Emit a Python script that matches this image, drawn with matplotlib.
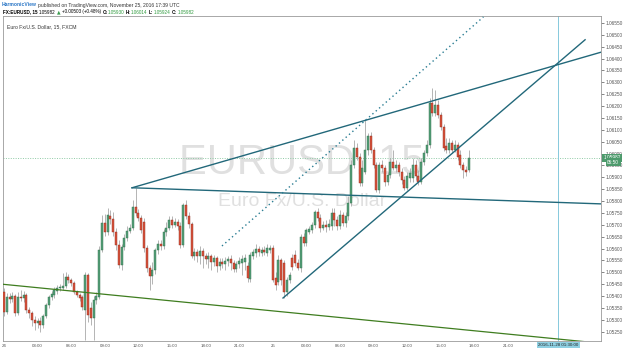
import numpy as np
import matplotlib
matplotlib.use("Agg")
import matplotlib.pyplot as plt

plt.rcParams['font.family'] = ['Liberation Sans', 'DejaVu Sans']

# EURUSD 15 min bars, 24 Nov 2016 00:00 UTC -> 25 Nov 17:30 UTC
opens = [1.05418, 1.05333, 1.05397, 1.05388, 1.05401, 1.05329, 1.05397, 1.05392, 1.05405, 1.05342,
         1.05329, 1.05300, 1.05287, 1.05296, 1.05279, 1.05317, 1.05363, 1.05397, 1.05405, 1.05422,
         1.05435, 1.05435, 1.05443, 1.05481, 1.05468, 1.05456, 1.05418, 1.05405, 1.05397, 1.05342,
         1.05489, 1.05350, 1.05308, 1.05384, 1.05397, 1.05595, 1.05708, 1.05670, 1.05738, 1.05725,
         1.05670, 1.05616, 1.05531, 1.05607, 1.05645, 1.05674, 1.05687, 1.05776, 1.05750, 1.05729,
         1.05712, 1.05603, 1.05519, 1.05485, 1.05510, 1.05595, 1.05620, 1.05611, 1.05670, 1.05687,
         1.05721, 1.05700, 1.05712, 1.05696, 1.05616, 1.05784, 1.05738, 1.05704, 1.05569, 1.05586,
         1.05569, 1.05590, 1.05569, 1.05557, 1.05569, 1.05544, 1.05561, 1.05527, 1.05544, 1.05536,
         1.05548, 1.05557, 1.05540, 1.05515, 1.05536, 1.05540, 1.05544, 1.05527, 1.05472, 1.05569,
         1.05582, 1.05599, 1.05582, 1.05595, 1.05582, 1.05595, 1.05603, 1.05477, 1.05460, 1.05552,
         1.05540, 1.05418, 1.05468, 1.05561, 1.05573, 1.05540, 1.05519, 1.05649, 1.05624, 1.05670,
         1.05679, 1.05700, 1.05754, 1.05729, 1.05687, 1.05700, 1.05691, 1.05696, 1.05750, 1.05721,
         1.05696, 1.05742, 1.05708, 1.05738, 1.05792, 1.05952, 1.06024, 1.05986, 1.05877, 1.05923,
         1.06016, 1.06074, 1.06016, 1.05952, 1.05847, 1.05952, 1.05940, 1.05881, 1.05910, 1.05965,
         1.05940, 1.05952, 1.05923, 1.05889, 1.05856, 1.05898, 1.05898, 1.05952, 1.05906, 1.05881,
         1.05965, 1.06003, 1.06037, 1.06213, 1.06171, 1.06205, 1.06163, 1.06112, 1.06032, 1.06016,
         1.06045, 1.06016, 1.06037, 1.05994, 1.05952, 1.05931, 1.05930]
highs = [1.05435, 1.05413, 1.05413, 1.05418, 1.05409, 1.05418, 1.05426, 1.05422, 1.05413, 1.05354,
         1.05338, 1.05317, 1.05308, 1.05312, 1.05325, 1.05371, 1.05405, 1.05422, 1.05439, 1.05447,
         1.05451, 1.05498, 1.05502, 1.05493, 1.05477, 1.05464, 1.05426, 1.05413, 1.05405, 1.05502,
         1.05498, 1.05376, 1.05401, 1.05418, 1.05611, 1.05742, 1.05746, 1.05771, 1.05763, 1.05754,
         1.05687, 1.05637, 1.05620, 1.05662, 1.05696, 1.05704, 1.05805, 1.05856, 1.05767, 1.05742,
         1.05729, 1.05616, 1.05531, 1.05544, 1.05603, 1.05637, 1.05637, 1.05683, 1.05712, 1.05738,
         1.05738, 1.05729, 1.05725, 1.05712, 1.05792, 1.05805, 1.05754, 1.05712, 1.05603, 1.05599,
         1.05611, 1.05603, 1.05582, 1.05586, 1.05578, 1.05573, 1.05569, 1.05561, 1.05561, 1.05565,
         1.05569, 1.05573, 1.05552, 1.05548, 1.05565, 1.05573, 1.05578, 1.05544, 1.05586, 1.05599,
         1.05620, 1.05611, 1.05607, 1.05611, 1.05620, 1.05616, 1.05616, 1.05502, 1.05573, 1.05561,
         1.05552, 1.05481, 1.05502, 1.05578, 1.05595, 1.05557, 1.05662, 1.05666, 1.05687, 1.05696,
         1.05712, 1.05763, 1.05771, 1.05746, 1.05717, 1.05721, 1.05725, 1.05771, 1.05771, 1.05738,
         1.05763, 1.05754, 1.05754, 1.05822, 1.05973, 1.06058, 1.06045, 1.06003, 1.05973, 1.06142,
         1.06087, 1.06091, 1.06028, 1.05965, 1.05965, 1.05973, 1.05952, 1.05923, 1.05982, 1.06016,
         1.05973, 1.05965, 1.05940, 1.05906, 1.05923, 1.05940, 1.05982, 1.05973, 1.05931, 1.05982,
         1.06016, 1.06058, 1.06234, 1.06276, 1.06268, 1.06226, 1.06176, 1.06125, 1.06066, 1.06066,
         1.06058, 1.06058, 1.06049, 1.06016, 1.05965, 1.05948, 1.06014]
lows = [1.05317, 1.05325, 1.05371, 1.05376, 1.05317, 1.05321, 1.05380, 1.05376, 1.05329, 1.05308,
        1.05275, 1.05258, 1.05266, 1.05249, 1.05266, 1.05308, 1.05350, 1.05384, 1.05392, 1.05409,
        1.05422, 1.05426, 1.05435, 1.05456, 1.05443, 1.05409, 1.05397, 1.05380, 1.05342, 1.05216,
        1.05291, 1.05279, 1.05216, 1.05367, 1.05388, 1.05586, 1.05653, 1.05658, 1.05704, 1.05653,
        1.05595, 1.05519, 1.05510, 1.05595, 1.05632, 1.05666, 1.05679, 1.05738, 1.05717, 1.05666,
        1.05586, 1.05502, 1.05426, 1.05451, 1.05493, 1.05578, 1.05595, 1.05599, 1.05653, 1.05679,
        1.05687, 1.05691, 1.05679, 1.05603, 1.05607, 1.05725, 1.05687, 1.05561, 1.05552, 1.05544,
        1.05536, 1.05519, 1.05536, 1.05519, 1.05510, 1.05527, 1.05502, 1.05510, 1.05519, 1.05510,
        1.05527, 1.05510, 1.05502, 1.05502, 1.05519, 1.05489, 1.05510, 1.05460, 1.05460, 1.05557,
        1.05565, 1.05569, 1.05569, 1.05573, 1.05569, 1.05582, 1.05460, 1.05426, 1.05447, 1.05447,
        1.05392, 1.05401, 1.05456, 1.05510, 1.05527, 1.05510, 1.05502, 1.05611, 1.05611, 1.05662,
        1.05666, 1.05687, 1.05717, 1.05670, 1.05679, 1.05670, 1.05679, 1.05679, 1.05696, 1.05679,
        1.05683, 1.05696, 1.05691, 1.05721, 1.05780, 1.05940, 1.05973, 1.05864, 1.05864, 1.05914,
        1.05994, 1.06003, 1.05940, 1.05839, 1.05835, 1.05923, 1.05864, 1.05868, 1.05898, 1.05931,
        1.05923, 1.05906, 1.05872, 1.05847, 1.05847, 1.05881, 1.05881, 1.05889, 1.05868, 1.05872,
        1.05952, 1.05990, 1.06024, 1.06159, 1.06159, 1.06150, 1.06100, 1.06011, 1.06003, 1.06003,
        1.06003, 1.06007, 1.05973, 1.05940, 1.05898, 1.05906, 1.05924]
closes = [1.05333, 1.05397, 1.05388, 1.05401, 1.05329, 1.05397, 1.05392, 1.05405, 1.05342, 1.05329,
          1.05300, 1.05287, 1.05296, 1.05279, 1.05317, 1.05363, 1.05397, 1.05409, 1.05426, 1.05435,
          1.05439, 1.05443, 1.05481, 1.05468, 1.05456, 1.05418, 1.05405, 1.05392, 1.05354, 1.05489,
          1.05321, 1.05308, 1.05384, 1.05401, 1.05595, 1.05708, 1.05670, 1.05742, 1.05725, 1.05670,
          1.05616, 1.05531, 1.05607, 1.05645, 1.05674, 1.05687, 1.05776, 1.05750, 1.05729, 1.05679,
          1.05603, 1.05519, 1.05485, 1.05510, 1.05595, 1.05620, 1.05611, 1.05670, 1.05687, 1.05721,
          1.05700, 1.05712, 1.05696, 1.05616, 1.05784, 1.05738, 1.05704, 1.05569, 1.05586, 1.05569,
          1.05590, 1.05569, 1.05557, 1.05569, 1.05544, 1.05561, 1.05527, 1.05544, 1.05536, 1.05548,
          1.05557, 1.05540, 1.05515, 1.05536, 1.05548, 1.05557, 1.05561, 1.05477, 1.05573, 1.05586,
          1.05599, 1.05586, 1.05595, 1.05586, 1.05603, 1.05603, 1.05468, 1.05447, 1.05552, 1.05468,
          1.05418, 1.05468, 1.05489, 1.05523, 1.05540, 1.05519, 1.05649, 1.05624, 1.05679, 1.05683,
          1.05700, 1.05754, 1.05729, 1.05687, 1.05700, 1.05691, 1.05704, 1.05750, 1.05721, 1.05696,
          1.05742, 1.05708, 1.05738, 1.05792, 1.05952, 1.06024, 1.05986, 1.05877, 1.05940, 1.06016,
          1.06074, 1.06016, 1.05952, 1.05847, 1.05952, 1.05940, 1.05881, 1.05910, 1.05965, 1.05940,
          1.05952, 1.05923, 1.05889, 1.05856, 1.05906, 1.05919, 1.05952, 1.05906, 1.05881, 1.05965,
          1.06003, 1.06037, 1.06213, 1.06171, 1.06205, 1.06163, 1.06112, 1.06024, 1.06016, 1.06045,
          1.06016, 1.06037, 1.05986, 1.05952, 1.05931, 1.05923, 1.05982]

# drawings, x in trading hours since 24 Nov 00:00 (weekend skipped)
wedge_top_h = [11.43, 53.4]
wedge_top_p = [1.05856, 1.06428]
flat_line_h = [11.43, 53.4]
flat_line_p = [1.05856, 1.05788]
wedge_low_h = [24.91, 51.88]
wedge_low_p = [1.05392, 1.06479]
dotted_h = [19.46, 42.8]
dotted_p = [1.05611, 1.06575]
green_line_h = [-0.36, 53.4]
green_line_p = [1.05451, 1.05201]
cursor_h = 49.5

time_ticks = [0, 3, 6, 9, 12, 15, 18, 21, 24, 27, 30, 33, 36, 39, 42, 45]
time_labels = ["24", "03:00", "06:00", "09:00", "12:00", "15:00", "18:00", "21:00",
               "25", "03:00", "06:00", "09:00", "12:00", "15:00", "18:00", "21:00"]
price_ticks = np.arange(1.0525, 1.06551, 0.0005)

fig = plt.figure(figsize=(6.25, 3.52), dpi=100)
ax = fig.add_axes([3 / 625, 11 / 352, 598 / 625, 325 / 352])
ax.set_xlim(-0.09, 53.3)
ax.set_ylim(1.05211, 1.06579)

o = np.array(opens)
c = np.array(closes)
h = np.array(highs)
l = np.array(lows)
x = np.arange(len(o)) * 0.25
up = c >= o

ax.vlines(x, l, h, color="#a8a8a8", lw=0.6, zorder=2)
body = np.maximum(np.abs(c - o), 0.00002)
ax.bar(x[up], body[up], bottom=np.minimum(o, c)[up], width=0.19,
       color="#56a079", edgecolor="#2f6e4b", lw=0.3, zorder=3)
ax.bar(x[~up], body[~up], bottom=np.minimum(o, c)[~up], width=0.19,
       color="#d9543e", edgecolor="#8e2a1c", lw=0.3, zorder=3)

teal = "#22687a"
ax.plot(wedge_top_h, wedge_top_p, color=teal, lw=1.0, zorder=4)
ax.plot(flat_line_h, flat_line_p, color=teal, lw=1.0, zorder=4)
ax.plot(wedge_low_h, wedge_low_p, color=teal, lw=1.0, zorder=4)
ax.plot(dotted_h, dotted_p, color="#2a7d93", lw=1.0, ls=(0, (1, 2.2)), zorder=4)
ax.plot(green_line_h, green_line_p, color="#3f7d1f", lw=0.9, zorder=4)

ax.axhline(closes[-1], color="#8fcaa5", lw=0.7, ls=(0, (1, 1.5)), zorder=1)
ax.axvline(cursor_h, color="#86c9dc", lw=0.7, zorder=1)

# watermark
ax.text(0.5, 0.548, "EURUSD, 15", transform=ax.transAxes, ha="center", va="center",
        fontsize=30, color="#e0e0e0", zorder=0)
ax.text(0.5, 0.43, "Euro Fx/U.S. Dollar", transform=ax.transAxes, ha="center", va="center",
        fontsize=14, color="#e0e0e0", zorder=0)
ax.text(0.006, 0.975, "Euro Fx/U.S. Dollar, 15, FXCM", transform=ax.transAxes,
        ha="left", va="top", fontsize=3.7, color="#333333")

ax.yaxis.tick_right()
ax.set_yticks(price_ticks)
ax.set_yticklabels(["%.5f" % p for p in price_ticks])
ax.set_xticks(time_ticks)
ax.set_xticklabels(time_labels)
ax.tick_params(axis="y", labelsize=3.4, colors="#555555", length=2, width=0.5, pad=1.5)
ax.tick_params(axis="x", labelsize=3.2, colors="#555555", length=0, pad=2)
for s in ax.spines.values():
    s.set_color("#9a9a9a")
    s.set_linewidth(0.6)

# last price tag and bar countdown on the price axis
ax.text(1.004, closes[-1], "1.05982", transform=ax.get_yaxis_transform(), ha="left",
        va="center", fontsize=3.4, color="white", clip_on=False,
        bbox=dict(boxstyle="square,pad=0.3", fc="#4d9a6c", ec="none"))
ax.text(1.0105, closes[-1] - 0.00019, "05:50", transform=ax.get_yaxis_transform(), ha="left",
        va="center", fontsize=3.4, color="white", clip_on=False,
        bbox=dict(boxstyle="square,pad=0.3", fc="#4d9a6c", ec="none"))
ax.text(cursor_h, -0.006, "2016-11-28 01:30:00", transform=ax.get_xaxis_transform(),
        ha="center", va="top", fontsize=3.2, color="#222222", clip_on=False,
        bbox=dict(boxstyle="square,pad=0.3", fc="#8fd0e2", ec="none"))


# header rows: pieces laid out one after another
def text_row(y_px, x_px, size, pieces):
    fig.canvas.draw()
    r = fig.canvas.get_renderer()
    for s, gap, kw in pieces:
        t = fig.text(x_px / 625, 1 - y_px / 352, s, va="center", fontsize=size, **kw)
        x_px += t.get_window_extent(r).width + gap


green = "#2e9a3e"
text_row(5, 2, 3.6, [("HarmonicView", 1.5, dict(color="#2a76c6", fontweight="bold")),
                     ("published on TradingView.com, November 25, 2016 17:39 UTC", 0,
                      dict(color="#333333"))])
text_row(12, 3, 3.3, [("FX:EURUSD, 15", 1.5, dict(fontweight="bold")),
                      ("1.05982", 1.2, {}),
                      ("\u25b2", 1.2, dict(color="#3a9a4e", family="DejaVu Sans")),
                      ("+0.00503 (+0.48%)", 1.5, {}),
                      ("O:", 0.4, dict(fontweight="bold")), ("1.05930", 1.5, dict(color=green)),
                      ("H:", 0.4, dict(fontweight="bold")), ("1.06014", 1.5, dict(color=green)),
                      ("L:", 0.4, dict(fontweight="bold")), ("1.05924", 1.5, dict(color=green)),
                      ("C:", 0.4, dict(fontweight="bold")), ("1.05982", 0, dict(color=green))])

fig.savefig("out.png", dpi=100)
